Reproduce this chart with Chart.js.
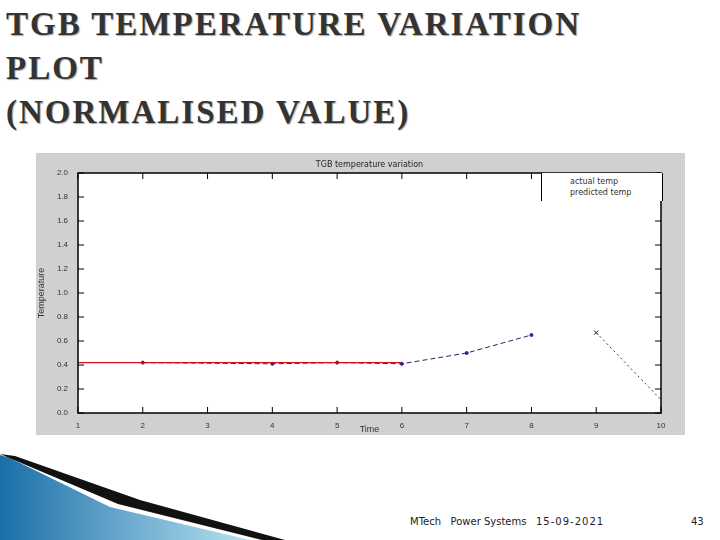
<!DOCTYPE html>
<html><head><meta charset="utf-8">
<script src="https://cdn.jsdelivr.net/npm/chart.js@4"></script>
<style>
body{margin:0;width:720px;height:540px;background:#fff;position:relative;overflow:hidden;font-family:"Liberation Serif",serif}
#t{position:absolute;left:6px;top:2px;font-size:33px;font-weight:bold;line-height:44px;color:#333;letter-spacing:2px;text-shadow:1px 1px 1px #aaa}
#box{position:absolute;left:36px;top:153px;width:649px;height:282px;background:#d0d0d0}
#leg{position:absolute;left:541px;top:173px;width:120px;height:28px;border-left:1px solid #000;border-right:1px solid #000;background:#fff;font:8px "DejaVu Sans",sans-serif;color:#333}
#leg div{position:absolute;left:28px}
.f{position:absolute;top:516px;font:10px "DejaVu Sans",sans-serif;color:#222}
</style></head><body>
<div id="t">TGB TEMPERATURE VARIATION<br>PLOT<br>(NORMALISED VALUE)</div>
<div id="box"><canvas id="grafica" width="649" height="282"></canvas></div>
<div id="leg"><div style="top:4px">actual temp</div><div style="top:15px">predicted temp</div></div>
<svg style="position:absolute;left:0;top:452px" width="300" height="88">
<defs><linearGradient id="g" x1="0" x2="1"><stop offset="0" stop-color="#1b6fa8"/><stop offset="1" stop-color="#b8e2f2"/></linearGradient></defs>
<polygon points="0,3 10,6 110,55 250,88 0,88" fill="url(#g)"/>
<polygon points="0,2 15,4 140,48 285,88 262,88 118,52" fill="#111"/>
</svg>
<div class="f" style="left:410px">MTech&nbsp;&nbsp;&nbsp;Power Systems</div>
<div class="f" style="left:536px;letter-spacing:1px">15-09-2021</div>
<div class="f" style="left:691px">43</div>
<script>
const tiempo=[1,2,3,4,5,6,7,8,9,10];
const actual=[0.42,0.42,0.42,0.42,0.42,0.42,null,null,null,null];
const predicho=[null,0.42,null,0.41,0.42,0.41,0.5,0.65,null,null];
const predicho2=[null,null,null,null,null,null,null,null,0.67,0.11];
const TICKS_Y=[0,0.2,0.4,0.6,0.8,1.0,1.2,1.4,1.6,1.8,2.0];

const pts=a=>tiempo.map((x,i)=>({x:x,y:a[i]}));
const marco={id:'marco',beforeDraw(c){const a=c.chartArea,g=c.ctx;g.save();g.fillStyle='#fff';g.fillRect(a.left,a.top,a.width,a.height);g.restore();},
afterDraw(c){const a=c.chartArea,g=c.ctx;g.save();g.strokeStyle='#000';g.lineWidth=1.5;g.strokeRect(a.left,a.top,a.width,a.height);
g.lineWidth=1;const xs=c.scales.x,ys=c.scales.y;
tiempo.forEach(v=>{const p=xs.getPixelForValue(v);g.beginPath();g.moveTo(p,a.bottom);g.lineTo(p,a.bottom-6);g.moveTo(p,a.top);g.lineTo(p,a.top+6);g.stroke();});
TICKS_Y.forEach(v=>{const p=ys.getPixelForValue(v);g.beginPath();g.moveTo(a.left,p);g.lineTo(a.left+6,p);g.moveTo(a.right,p);g.lineTo(a.right-6,p);g.stroke();});
g.fillStyle='#222';g.font='8px DejaVu Sans';g.textAlign='center';g.fillText('TGB temperature variation',(a.left+a.right)/2,a.top-6);g.restore();}};
new Chart(document.getElementById('grafica'),{type:'line',
data:{datasets:[
{data:pts(actual),borderColor:'#d01020',borderWidth:1.2,pointRadius:0,spanGaps:false},
{data:pts(predicho),borderColor:'#3a2060',borderWidth:1,borderDash:[5,3],pointRadius:1.5,pointBackgroundColor:'#2020a0',pointBorderColor:'#2020a0',spanGaps:true},
{data:pts(predicho2),borderColor:'#6a2040',borderWidth:1,borderDash:[2,3],pointStyle:'crossRot',pointRadius:[0,0,0,0,0,0,0,0,3,0],pointBorderColor:'#222',spanGaps:true}]},
options:{responsive:false,animation:false,layout:{padding:{top:20,right:24}},
plugins:{legend:{display:false},tooltip:{enabled:false}},
scales:{
x:{type:'linear',min:1,max:10,grid:{display:false},border:{display:false},
ticks:{stepSize:1,color:'#333',font:{size:8},padding:0},
title:{display:true,text:'Time',color:'#333',font:{size:9},padding:0},afterFit(s){s.height=22;}},
y:{min:0,max:2,grid:{display:false},border:{display:false},
afterBuildTicks(s){s.ticks=TICKS_Y.map(v=>({value:v}));},
ticks:{color:'#333',font:{size:8},padding:2,callback:v=>v.toFixed(1)},
title:{display:true,text:'Temperature',color:'#333',font:{size:9},padding:0},afterFit(s){s.width=42;}}}},
plugins:[marco]});
</script></body></html>
